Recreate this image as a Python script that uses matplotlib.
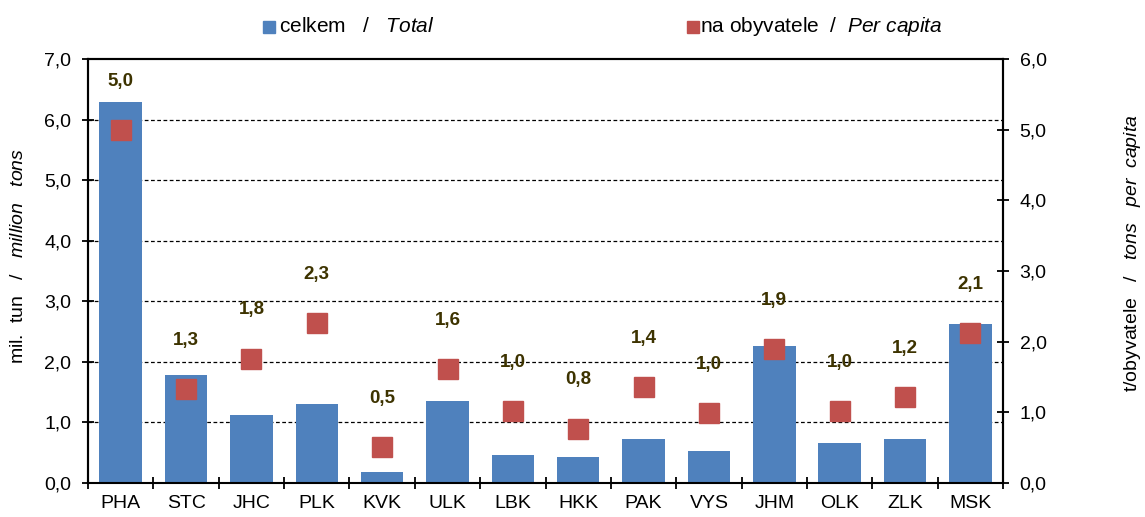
import matplotlib.pyplot as plt
import matplotlib.ticker as mticker
from matplotlib.patches import Rectangle
import numpy as np

plt.rcParams['font.family'] = ['Liberation Sans', 'DejaVu Sans']
plt.rcParams['mathtext.fontset'] = 'custom'
plt.rcParams['mathtext.rm'] = 'Liberation Sans'
plt.rcParams['mathtext.it'] = 'Liberation Sans:italic'

# ── Data ─────────────────────────────────────────────────────────────────────
regions = ['PHA', 'STC', 'JHC', 'PLK', 'KVK', 'ULK', 'LBK',
           'HKK', 'PAK', 'VYS', 'JHM', 'OLK', 'ZLK', 'MSK']
total_mt = [6.29, 1.79, 1.13, 1.30, 0.18, 1.36, 0.47,
            0.43, 0.73, 0.53, 2.26, 0.66, 0.73, 2.62]
per_capita = [5.0, 1.33, 1.76, 2.26, 0.51, 1.61, 1.02,
              0.77, 1.36, 0.99, 1.90, 1.02, 1.22, 2.12]

BLUE = '#4f81bd'
RED = '#c0504d'
LBL = '#3d3300'
FS = 14

def comma(v, p=None):
    return f'{v:.1f}'.replace('.', ',')

fig = plt.figure(figsize=(11.45, 5.17), dpi=100)
ax = fig.add_axes([0.0769, 0.0658, 0.7991, 0.8201])
ax2 = ax.twinx()

x = np.arange(len(regions))
ax.bar(x, total_mt, width=0.65, color=BLUE, zorder=2)
ax.set_xlim(-0.5, len(regions) - 0.5)
ax.set_ylim(0, 7)
ax.yaxis.set_major_locator(mticker.MultipleLocator(1))
ax.yaxis.set_major_formatter(mticker.FuncFormatter(comma))
for g in range(1, 7):
    ax.axhline(g, color='black', lw=0.9, ls=(0, (3, 2)), zorder=1)

ax.set_xticks(x)
ax.set_xticklabels(regions)
ax.set_xticks(np.arange(-0.5, len(regions), 1), minor=True)
ax.tick_params(axis='x', which='major', length=0, labelsize=FS, pad=9)
ax.tick_params(axis='x', which='minor', length=8, direction='inout', width=1.3)
ax.tick_params(axis='y', direction='inout', length=8, width=1.3, labelsize=FS, pad=8)

ax2.plot(x, per_capita, ls='none', marker='s', markersize=15,
         color=RED, zorder=3)
ax2.set_ylim(0, 6)
ax2.yaxis.set_major_locator(mticker.MultipleLocator(1))
ax2.yaxis.set_major_formatter(mticker.FuncFormatter(comma))
ax2.tick_params(axis='y', direction='inout', length=8, width=1.3, labelsize=FS, pad=8)

for xi, v in zip(x, per_capita):
    ax2.annotate(comma(v), (xi, v), xytext=(0, 35),
                 textcoords='offset points', ha='center', va='center',
                 fontsize=13.5, fontweight='bold', color=LBL)

for a in (ax, ax2):
    for s in ('left', 'right', 'bottom', 'top'):
        a.spines[s].set_linewidth(1.5)
ax2.spines['bottom'].set_visible(False)

fig.text(0.016, 0.505, r'mil.  tun   /   $\it{million\ \ \ tons}$', rotation=90,
         ha='center', va='center', fontsize=FS)
fig.text(0.989, 0.51, r't/obyvatele   /   $\it{tons\ \ \ per\ \ capita}$', rotation=90,
         ha='center', va='center', fontsize=FS)

# legend
for sx, col in ((263 / 1145, BLUE), (687 / 1145, RED)):
    fig.add_artist(Rectangle((sx, 1 - 33 / 517), 12 / 1145, 12 / 517,
                             transform=fig.transFigure, color=col))
fig.text(279 / 1145, 1 - 27 / 517, r'celkem   /   $\it{Total}$',
         ha='left', va='center', fontsize=15)
fig.text(700 / 1145, 1 - 27 / 517, r'na obyvatele  /  $\it{Per\ capita}$',
         ha='left', va='center', fontsize=15)

fig.savefig('out.png', dpi=100)
